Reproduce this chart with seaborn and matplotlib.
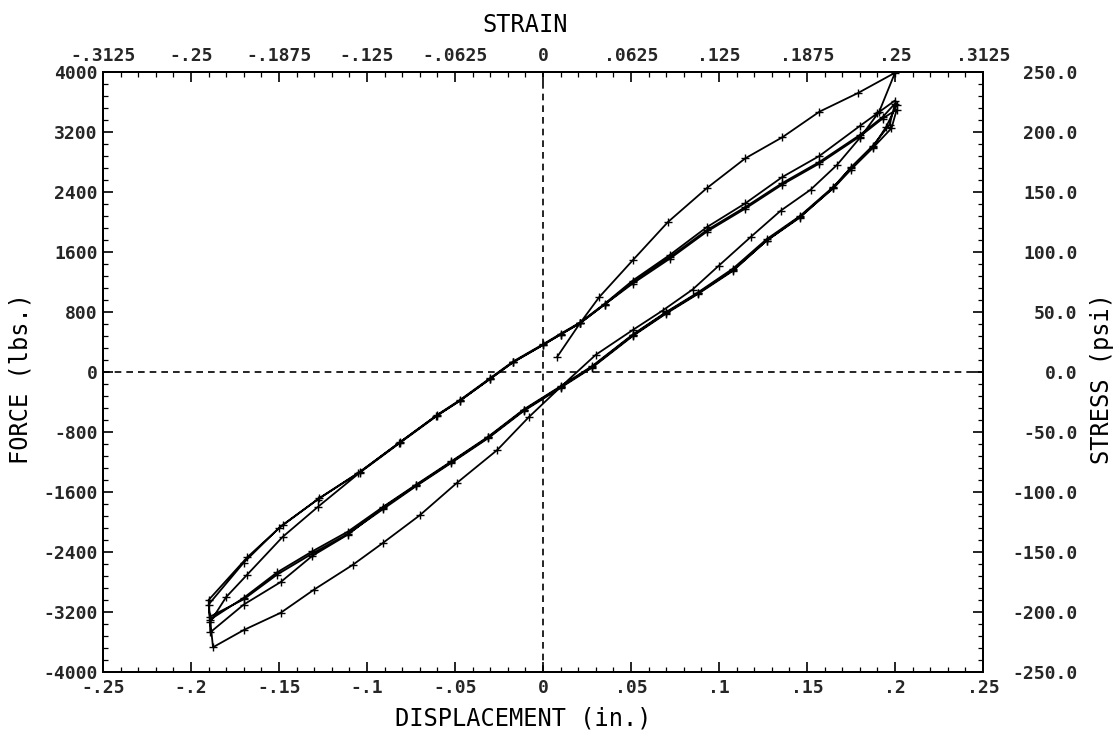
import matplotlib
matplotlib.use("Agg")
import matplotlib.pyplot as plt
import numpy as np
import pandas as pd
import seaborn as sns
from matplotlib.ticker import MultipleLocator

# ---- recorded force / displacement path, one branch per half cycle ----
load_1_disp = [0.008, 0.021, 0.032, 0.051, 0.071, 0.093, 0.115, 0.136, 0.157, 0.179, 0.200]
load_1_force = [200, 650, 1000, 1490, 2000, 2450, 2850, 3130, 3470, 3720, 3990]

unload_1_disp = [0.191, 0.180, 0.167, 0.152, 0.135, 0.118, 0.100, 0.085, 0.068, 0.051, 0.030,
                 0.010, -0.008, -0.026, -0.049, -0.070, -0.091, -0.108, -0.130, -0.149,
                 -0.170, -0.1875]
unload_1_force = [3470, 3120, 2760, 2430, 2150, 1800, 1420, 1100, 820, 560, 230,
                  -200, -600, -1040, -1480, -1910, -2280, -2570, -2900, -3210,
                  -3440, -3670]

load_2_disp = [-0.189, -0.180, -0.168, -0.148, -0.128, -0.104, -0.081, -0.060, -0.047, -0.030,
               -0.017, 0.0, 0.010, 0.021, 0.035, 0.051, 0.072, 0.093, 0.115, 0.136,
               0.157, 0.180, 0.193, 0.201]
load_2_force = [-3330, -3000, -2700, -2200, -1800, -1340, -940, -580, -380, -90,
                130, 360, 500, 650, 900, 1180, 1510, 1870, 2180, 2500,
                2780, 3140, 3380, 3500]

unload_2_disp = [0.198, 0.1875, 0.175, 0.165, 0.146, 0.127, 0.108, 0.088, 0.070, 0.051,
                 0.028, 0.010, -0.011, -0.031, -0.052, -0.072, -0.091, -0.111, -0.131,
                 -0.149, -0.170, -0.189]
unload_2_force = [3250, 2990, 2700, 2450, 2070, 1750, 1360, 1050, 790, 490,
                  70, -200, -510, -870, -1200, -1510, -1810, -2170, -2450,
                  -2800, -3100, -3470]

load_3_disp = [-0.190, -0.168, -0.148, -0.127, -0.104, -0.081, -0.060, -0.047, -0.030, -0.017,
               0.0, 0.010, 0.021, 0.035, 0.051, 0.072, 0.093, 0.115, 0.136, 0.157,
               0.180, 0.190, 0.200]
load_3_force = [-3040, -2470, -2040, -1680, -1330, -930, -570, -370, -80, 140,
                370, 510, 660, 910, 1220, 1560, 1930, 2250, 2600, 2880,
                3280, 3450, 3620]

unload_3_disp = [0.201, 0.195, 0.1875, 0.175, 0.165, 0.146, 0.127, 0.108, 0.088, 0.070,
                 0.051, 0.028, 0.010, -0.011, -0.031, -0.052, -0.072, -0.091, -0.111,
                 -0.131, -0.151, -0.170, -0.189]
unload_3_force = [3560, 3270, 3000, 2720, 2470, 2080, 1770, 1380, 1060, 800,
                  500, 80, -190, -500, -860, -1190, -1500, -1800, -2130,
                  -2390, -2670, -3010, -3300]

load_4_disp = [-0.190, -0.170, -0.150, -0.128, -0.105, -0.082, -0.061, -0.047, -0.030, -0.017,
               0.0, 0.010, 0.021, 0.035, 0.051, 0.072, 0.093, 0.115, 0.136, 0.157,
               0.180, 0.193, 0.200]
load_4_force = [-3100, -2540, -2080, -1700, -1350, -950, -590, -380, -90, 130,
                360, 500, 650, 900, 1200, 1530, 1890, 2200, 2520, 2800,
                3160, 3400, 3580]

unload_4_disp = [0.197, 0.1875, 0.175, 0.165, 0.146, 0.127, 0.108, 0.088, 0.070, 0.051,
                 0.028, 0.010, -0.011, -0.031, -0.052, -0.072, -0.091, -0.111, -0.131,
                 -0.151, -0.170, -0.189]
unload_4_force = [3300, 3020, 2730, 2460, 2060, 1750, 1350, 1040, 780, 480,
                  60, -210, -520, -880, -1210, -1520, -1830, -2160, -2420,
                  -2700, -3030, -3260]

# ---- axis ticks ----
disp_ticks = [-0.25, -0.2, -0.15, -0.1, -0.05, 0.0, 0.05, 0.1, 0.15, 0.2, 0.25]
disp_labels = ["-.25", "-.2", "-.15", "-.1", "-.05", "0", ".05", ".1", ".15", ".2", ".25"]
force_ticks = [-4000, -3200, -2400, -1600, -800, 0, 800, 1600, 2400, 3200, 4000]
force_labels = ["-4000", "-3200", "-2400", "-1600", "-800", "0", "800", "1600", "2400", "3200", "4000"]
strain_ticks = [-0.3125, -0.25, -0.1875, -0.125, -0.0625, 0.0, 0.0625, 0.125, 0.1875, 0.25, 0.3125]
strain_labels = ["-.3125", "-.25", "-.1875", "-.125", "-.0625", "0", ".0625", ".125", ".1875", ".25", ".3125"]
stress_ticks = [-250, -200, -150, -100, -50, 0, 50, 100, 150, 200, 250]
stress_labels = ["-250.0", "-200.0", "-150.0", "-100.0", "-50.0", "0.0", "50.0", "100.0", "150.0", "200.0", "250.0"]

branches = [
    (load_1_disp, load_1_force), (unload_1_disp, unload_1_force),
    (load_2_disp, load_2_force), (unload_2_disp, unload_2_force),
    (load_3_disp, load_3_force), (unload_3_disp, unload_3_force),
    (load_4_disp, load_4_force), (unload_4_disp, unload_4_force),
]
disp = np.concatenate([b[0] for b in branches])
force = np.concatenate([b[1] for b in branches])
df = pd.DataFrame({"disp": disp, "force": force, "step": np.arange(len(disp))})

sns.set_theme(style="ticks")
plt.rcParams["font.family"] = ["DejaVu Sans Mono", "DejaVu Sans"]

fig = plt.figure(figsize=(11.19, 7.33), dpi=100)
ax = fig.add_axes([103 / 1119, 1 - 672 / 733, 880 / 1119, 600 / 733])

# one continuous pen trace, drawn in recording order
sns.lineplot(data=df, x="disp", y="force", sort=False, estimator=None, ax=ax,
             color="black", linewidth=1.3, marker="+", markersize=6,
             markeredgecolor="black", markeredgewidth=1.0)

ax.axhline(0, color="black", lw=1.2, ls=(0, (4, 3)), zorder=1)
ax.axvline(0, color="black", lw=1.2, ls=(0, (4, 3)), zorder=1)

ax.set_xlim(-0.25, 0.25)
ax.set_ylim(-4000, 4000)

tick_font = dict(fontsize=13, fontweight="bold")
ax.set_xticks(disp_ticks, disp_labels, **tick_font)
ax.set_yticks(force_ticks, force_labels, **tick_font)
ax.xaxis.set_minor_locator(MultipleLocator(0.01))
ax.yaxis.set_minor_locator(MultipleLocator(160))
ax.tick_params(which="both", direction="in", top=False, right=False, color="black")
ax.tick_params(which="major", length=7, width=1.2)
ax.tick_params(which="minor", length=3.5, width=0.9)
ax.tick_params(axis="x", which="major", pad=5)
ax.tick_params(axis="y", which="major", pad=4)

label_font = dict(fontsize=17, color="black")
ax.set_xlabel("DISPLACEMENT (in.)", **label_font)
ax.xaxis.set_label_coords(0.477, -0.057)
ax.set_ylabel("FORCE (lbs.)", **label_font)
ax.yaxis.set_label_coords(-0.080, 0.49)

# strain scale along the top
ax_top = ax.twiny()
ax_top.set_xlim(-0.3125, 0.3125)
ax_top.set_xticks(strain_ticks, strain_labels, **tick_font)
ax_top.xaxis.set_minor_locator(MultipleLocator(0.0125))
ax_top.tick_params(which="both", direction="in", color="black")
ax_top.tick_params(which="major", length=7, width=1.2, pad=5)
ax_top.tick_params(which="minor", length=3.5, width=0.9)
ax_top.set_xlabel("STRAIN", **label_font)
ax_top.xaxis.set_label_coords(0.48, 1.067)

# stress scale along the right, labels right-aligned in a column
ax_right = ax.twinx()
ax_right.set_ylim(-250, 250)
ax_right.set_yticks(stress_ticks, stress_labels, **tick_font)
ax_right.yaxis.set_minor_locator(MultipleLocator(10))
ax_right.tick_params(which="both", direction="in", color="black")
ax_right.tick_params(which="major", length=7, width=1.2, pad=68)
ax_right.tick_params(which="minor", length=3.5, width=0.9)
for lbl in ax_right.get_yticklabels():
    lbl.set_horizontalalignment("right")
ax_right.set_ylabel("STRESS (psi)", **label_font)
ax_right.yaxis.set_label_coords(1.122, 0.49)

for a in (ax, ax_top, ax_right):
    for s in a.spines.values():
        s.set_color("black")
        s.set_linewidth(1.4)

fig.savefig("out.png", dpi=100, facecolor="white")
